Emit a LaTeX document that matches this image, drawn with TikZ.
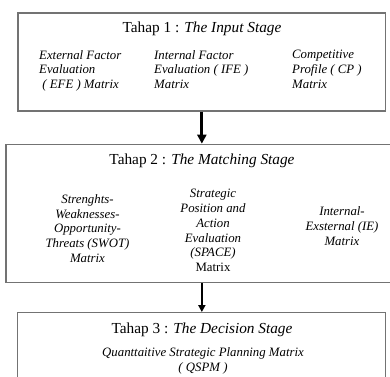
\documentclass[tikz,border=0pt]{standalone}
\usepackage{fontspec}
\setmainfont{Liberation Serif}
\usetikzlibrary{arrows.meta}
\begin{document}
\begin{tikzpicture}
  [x=1pt,y=-1pt,
   stagebox/.style={draw=black!55,line width=1.3pt,inner sep=0},
   title/.style={font=\fontsize{15.3}{18}\selectfont,anchor=base,inner sep=0},
   item/.style={font=\fontsize{12.8}{14.7}\selectfont\itshape,inner sep=0}]
  \useasboundingbox (0,0) rectangle (390,376);

  % the three stages
  \node[stagebox,minimum width=367.7pt,minimum height=98pt] (b1) at (201.85,62) {};
  \node[stagebox,minimum width=394pt,minimum height=138.4pt] (b2) at (203,213.5) {};
  \node[stagebox,minimum width=368.4pt,minimum height=87.3pt] (b3) at (201.5,356.35) {};

  \node[title] (t1) at (202,32.3) {Tahap 1 : \textit{The Input Stage}};
  \node[title] (t2) at (202,164.3) {Tahap 2 : \textit{The Matching Stage}};
  \node[title] (t3) at (202,333.3) {Tahap 3 : \textit{The Decision Stage}};

  % stage 1
  \node[item,anchor=north west,align=left] (efe) at (39,50)
    {External Factor\\Evaluation\\\ ( EFE ) Matrix};
  \node[item,anchor=north west,align=left] (ife) at (154,50)
    {Internal Factor\\Evaluation ( IFE )\\Matrix};
  \node[item,anchor=north west,align=left] (cp) at (292,50)
    {Competitive\\Profile ( CP )\\Matrix};

  % stage 2
  \node[item,anchor=north,align=center] (swot) at (87.5,194.3)
    {Strenghts-\\Weaknesses-\\Opportunity-\\Threats (SWOT)\\Matrix};
  \node[item,anchor=north,align=center] (space) at (213,189.3)
    {Strategic\\Position and\\Action\\Evaluation\\(SPACE)\\\upshape Matrix};
  \node[item,anchor=north,align=center] (ie) at (342,206.7)
    {Internal-\\Exsternal (IE)\\Matrix};

  % stage 3
  \node[item,anchor=north,align=center] (qspm) at (203,347.3)
    {Quanttaitive Strategic Planning Matrix\\( QSPM )};

  \draw[line width=3pt,-{Triangle[width=9pt,length=9pt]}] (b1.south) -- (b1.south |- b2.north);
  \draw[line width=2pt,-{Triangle[width=7pt,length=7pt]}] (b2.south -| b1.south) -- (b1.south |- b3.north);
\end{tikzpicture}
\end{document}
